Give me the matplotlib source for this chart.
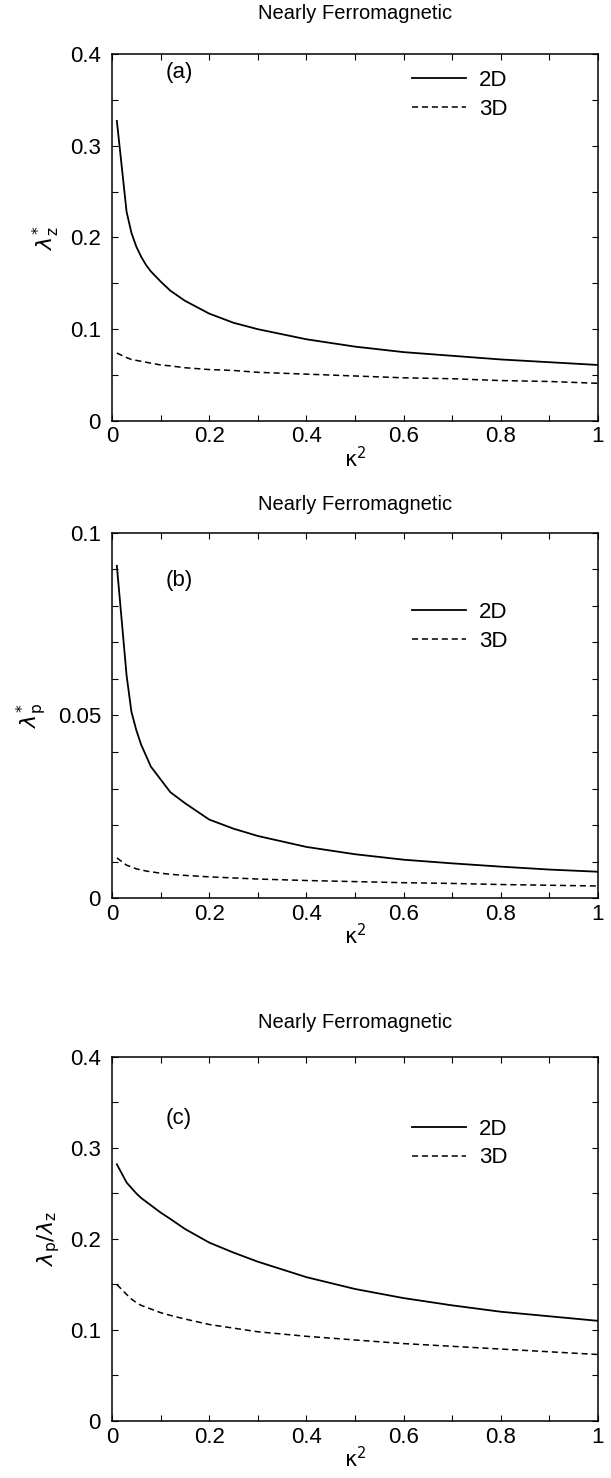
import numpy as np
import matplotlib
matplotlib.use("Agg")
import matplotlib.pyplot as plt
from matplotlib.ticker import MultipleLocator, FormatStrFormatter

plt.rcParams["font.family"] = ["Liberation Sans", "DejaVu Sans"]
plt.rcParams["mathtext.fontset"] = "dejavusans"

# kappa^2 grid of the computed points
k2 = [0.01, 0.03, 0.04, 0.05, 0.06, 0.07, 0.08, 0.1, 0.12, 0.15, 0.2, 0.25, 0.3,
      0.4, 0.5, 0.6, 0.7, 0.8, 0.9, 1.0]

# (a) lambda*_z
lz_2d = [0.327, 0.228, 0.205, 0.190, 0.179, 0.170, 0.163, 0.152, 0.142, 0.131,
         0.117, 0.107, 0.100, 0.089, 0.081, 0.075, 0.071, 0.067, 0.064, 0.061]
lz_3d = [0.074, 0.069, 0.067, 0.066, 0.065, 0.064, 0.063, 0.061, 0.060, 0.058,
         0.056, 0.055, 0.053, 0.051, 0.049, 0.047, 0.046, 0.044, 0.043, 0.041]

# (b) lambda*_p
lp_2d = [0.091, 0.061, 0.051, 0.046, 0.042, 0.039, 0.036, 0.0325, 0.029, 0.026,
         0.0215, 0.019, 0.017, 0.014, 0.012, 0.0105, 0.0095, 0.0086, 0.0078, 0.0072]
lp_3d = [0.0110, 0.0090, 0.0085, 0.0080, 0.0077, 0.0074, 0.0072, 0.0068, 0.0065, 0.0062,
         0.0058, 0.0055, 0.0052, 0.0048, 0.0045, 0.0042, 0.0040, 0.0037, 0.0035, 0.0033]

# (c) ratio lambda_p / lambda_z
ratio_2d = [0.282, 0.262, 0.256, 0.250, 0.245, 0.241, 0.237, 0.229, 0.222, 0.211,
            0.196, 0.185, 0.175, 0.158, 0.145, 0.135, 0.127, 0.120, 0.115, 0.110]
ratio_3d = [0.150, 0.139, 0.134, 0.130, 0.127, 0.125, 0.123, 0.119, 0.116, 0.112,
            0.106, 0.102, 0.098, 0.093, 0.089, 0.085, 0.082, 0.079, 0.076, 0.073]

fig = plt.figure(figsize=(6.11, 14.78), dpi=100)

panels = [
    # rect, 2D, 3D, ymax, major, minor, ylabel, tag, tag y, legend y, title y
    ([0.1833, 0.7152, 0.7954, 0.2483], lz_2d, lz_3d, 0.4, 0.1, 0.05,
     r"$\lambda^{*}_{\mathrm{z}}$", "(a)", 0.95, 0.935, 0.991),
    ([0.1833, 0.3924, 0.7954, 0.2470], lp_2d, lp_3d, 0.1, 0.05, 0.01,
     r"$\lambda^{*}_{\mathrm{p}}$", "(b)", 0.87, 0.79, 0.6585),
    ([0.1833, 0.0386, 0.7954, 0.2463], ratio_2d, ratio_3d, 0.4, 0.1, 0.05,
     r"$\lambda_{\mathrm{p}}/\lambda_{\mathrm{z}}$", "(c)", 0.83, 0.81, 0.3085),
]

for rect, y2, y3, ymax, major, minor, ylab, tag, tagy, legy, titley in panels:
    ax = fig.add_axes(rect)
    ax.plot(k2, y2, color="black", lw=1.3, label="2D")
    ax.plot(k2, y3, color="black", lw=1.1, ls=(0, (4, 2.5)), label="3D")
    ax.set_xlim(0, 1)
    ax.set_ylim(0, ymax)
    ax.xaxis.set_major_locator(MultipleLocator(0.2))
    ax.xaxis.set_minor_locator(MultipleLocator(0.1))
    ax.yaxis.set_major_locator(MultipleLocator(major))
    ax.yaxis.set_minor_locator(MultipleLocator(minor))
    ax.xaxis.set_major_formatter(FormatStrFormatter("%g"))
    ax.yaxis.set_major_formatter(FormatStrFormatter("%g"))
    ax.tick_params(which="both", direction="in", top=True, right=True,
                   length=4, width=0.8, labelsize=16)
    ax.tick_params(axis="x", pad=4)
    ax.tick_params(axis="y", pad=8)
    for s in ax.spines.values():
        s.set_linewidth(1.1)
    ax.set_xlabel(r"$\mathrm{\kappa}^{2}$", fontsize=15, labelpad=-1)
    ax.set_ylabel(ylab, fontsize=16, labelpad=6)
    ax.text(0.11, tagy, tag, transform=ax.transAxes, fontsize=16, va="center")
    ax.legend(loc="upper left", bbox_to_anchor=(0.6, legy + 0.045), frameon=False,
              fontsize=16, handlelength=2.4, handletextpad=0.6, labelspacing=0.35,
              borderaxespad=0)
    fig.text(0.581, titley, "Nearly Ferromagnetic", ha="center", va="center", fontsize=14.5)

fig.savefig("out.png", dpi=100)
